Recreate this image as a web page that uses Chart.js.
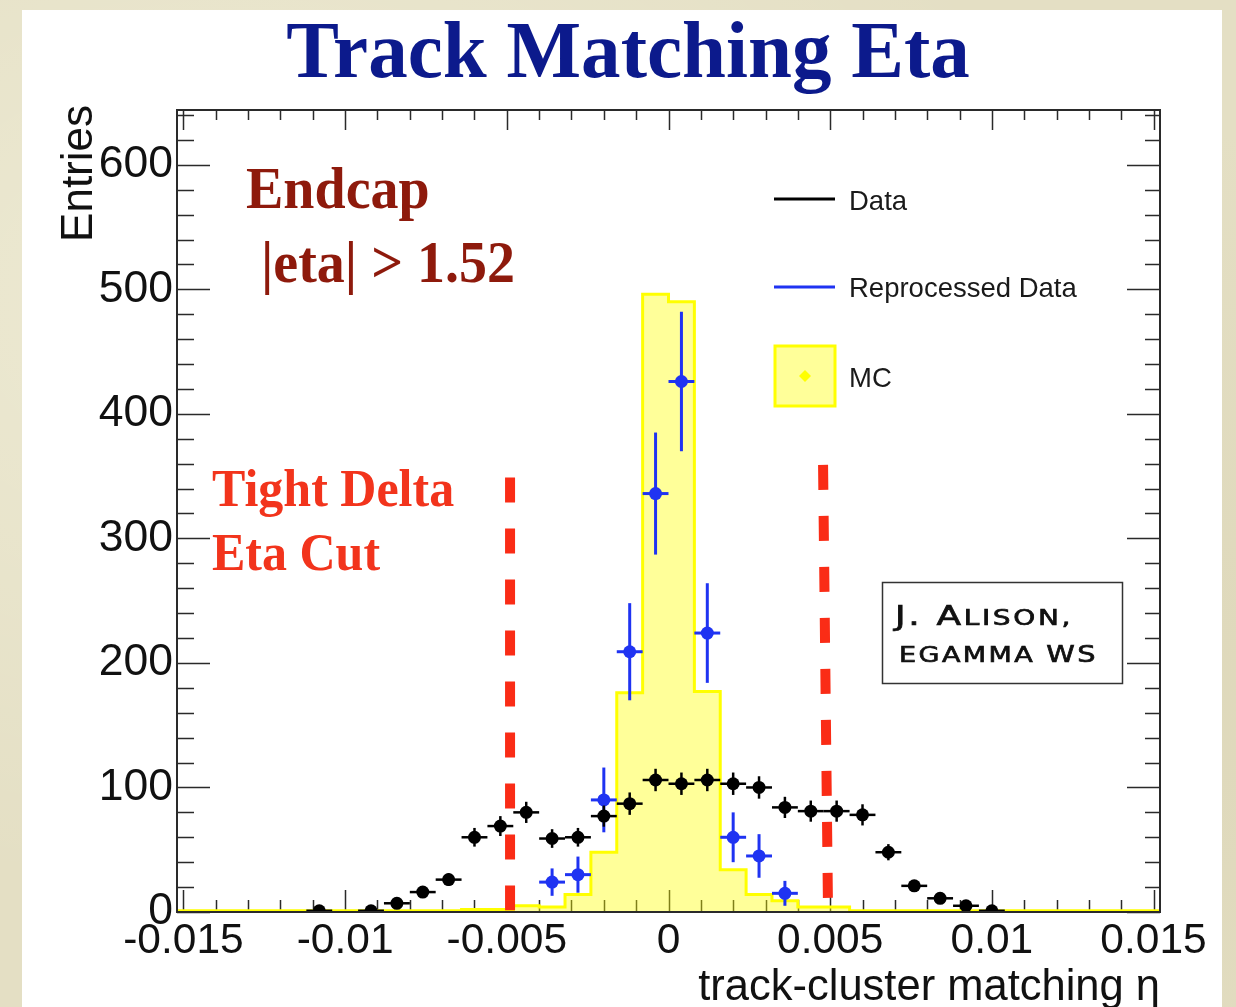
<!DOCTYPE html>
<html>
<head>
<meta charset="utf-8">
<title>Track Matching Eta</title>
<script src="https://cdn.jsdelivr.net/npm/chart.js@4.4.1/dist/chart.umd.min.js"></script>
<style>
  html, body { margin: 0; padding: 0; }
  body {
    width: 1236px; height: 1007px; position: relative; overflow: hidden;
    background:
      radial-gradient(ellipse at 20% 30%, rgba(255,255,240,0.35), rgba(255,255,240,0) 60%),
      radial-gradient(ellipse at 80% 70%, rgba(200,190,150,0.25), rgba(200,190,150,0) 60%),
      #e4dfc4;
  }
  #sheet { position: absolute; left: 22px; top: 10px; width: 1200px; height: 997px; background: #ffffff; }
  #plot { position: absolute; left: 0; top: 0; }
</style>
</head>
<body>
<div id="sheet"></div>
<canvas id="plot" width="1236" height="1007"></canvas>
<script>
// ---- histogram binning (38 bins of 0.0008 over [-0.0152, 0.0152]) ----
const X_MIN = -0.0152;
const X_MAX = 0.0152;
const BIN_WIDTH = 0.0008;
const Y_MAX = 644;

const etaBinCenters = [
  -0.0148, -0.0140, -0.0132, -0.0124, -0.0116, -0.0108, -0.0100, -0.0092,
  -0.0084, -0.0076, -0.0068, -0.0060, -0.0052, -0.0044, -0.0036, -0.0028,
  -0.0020, -0.0012, -0.0004,  0.0004,  0.0012,  0.0020,  0.0028,  0.0036,
   0.0044,  0.0052,  0.0060,  0.0068,  0.0076,  0.0084,  0.0092,  0.0100,
   0.0108,  0.0116,  0.0124,  0.0132,  0.0140,  0.0148
];

// MC expectation per bin
const mcEntries = [
  1, 1, 1, 1, 1, 1, 1, 1,
  1, 1, 1, 2, 2, 5, 4, 14,
  48, 176, 496, 490, 177, 34, 14, 9,
  4, 4, 1, 1, 1, 1, 1, 1,
  1, 1, 1, 1, 1, 1
];

// Data (black points) and their vertical errors
const dataEntries = [
  null, null, null, null, null, 1, null, 1,
  7, 16, 26, 60, 69, 80, 59, 60,
  77, 87, 106, 103, 106, 103, 100, 84,
  81, 81, 78, 48, 21, 11, 5, 1,
  null, null, null, null, null, null
];
const dataErrors = [
  0, 0, 0, 0, 0, 1, 0, 1,
  2.5, 4, 5, 7.5, 8, 8.5, 7.5, 7.5,
  8.5, 9, 9, 9, 9, 9, 9, 8.5,
  8.5, 8.5, 8.5, 6.5, 4.5, 3, 2, 1,
  0, 0, 0, 0, 0, 0
];

// Reprocessed data (blue points) and their vertical errors
const reprocEntries = [
  null, null, null, null, null, null, null, null,
  null, null, null, null, null, null, 24, 30,
  90, 209, 336, 426, 224, 60, 45, 15,
  null, null, null, null, null, null, null, null,
  null, null, null, null, null, null
];
const reprocErrors = [
  0, 0, 0, 0, 0, 0, 0, 0,
  0, 0, 0, 0, 0, 0, 11, 14.5,
  26, 39, 49, 56, 40, 20, 17.5, 10,
  0, 0, 0, 0, 0, 0, 0, 0,
  0, 0, 0, 0, 0, 0
];

// axis ticks
const xTickValues = [-0.015, -0.01, -0.005, 0, 0.005, 0.01, 0.015];
const xTickLabels = ['-0.015', '-0.01', '-0.005', '0', '0.005', '0.01', '0.015'];
const yTickValues = [0, 100, 200, 300, 400, 500, 600];
const yTickLabels = ['0', '100', '200', '300', '400', '500', '600'];

// tight delta-eta cut, drawn as dashed markers (top/bottom ends)
const cutLineX = [[-0.0049, -0.0049], [0.00478, 0.00493]];
const cutLineY = [[349, 1.5], [359, 9]];

// ---- text ----
const TITLE = 'Track Matching Eta';
const X_TITLE = 'track-cluster matching \u03b7';
const Y_TITLE = 'Entries';
const REGION_TEXT = ['Endcap', ' |eta| > 1.52'];
const CUT_TEXT = ['Tight Delta', 'Eta Cut'];

// ---- styles ----
const BLUE = '#1f33f2';
const MC_LINE = '#ffff00';
const MC_FILL = 'rgba(255,255,0,0.40)';
const AXIS_COLOR = '#2a2a2a';
const CUT_COLOR = '#fa2c16';
const SANS = '"Liberation Sans", Arial, sans-serif';
const SERIF = '"Liberation Serif", "Times New Roman", serif';

// ---- derived chart data ----
const mcOutline = [];
etaBinCenters.forEach((c, i) => {
  mcOutline.push({ x: c - BIN_WIDTH / 2, y: mcEntries[i] });
  mcOutline.push({ x: c + BIN_WIDTH / 2, y: mcEntries[i] });
});

function toPoints(values, errors) {
  const pts = [];
  values.forEach((v, i) => {
    if (v !== null) pts.push({ x: etaBinCenters[i], y: v, err: errors[i] });
  });
  return pts;
}

// ROOT-style ticks drawn inside the frame on all four sides
const innerTicks = {
  id: 'innerTicks',
  beforeDatasetsDraw(chart) {
    const { ctx, chartArea: a, scales: { x, y } } = chart;
    ctx.save();
    ctx.strokeStyle = AXIS_COLOR;
    ctx.lineWidth = 1.5;
    ctx.beginPath();
    for (let i = -15; i <= 15; i++) {
      const px = Math.round(x.getPixelForValue(i * 0.001)) + 0.5;
      const major = i % 5 === 0;
      const lb = major ? 22 : 12;
      const lt = major ? 20 : 10;
      ctx.moveTo(px, a.bottom); ctx.lineTo(px, a.bottom - lb);
      ctx.moveTo(px, a.top); ctx.lineTo(px, a.top + lt);
    }
    for (let i = 0; i <= 32; i++) {
      const py = Math.round(y.getPixelForValue(i * 20)) + 0.5;
      const major = i % 5 === 0;
      const ll = major ? 33 : 17;
      const lr = major ? 33 : 15;
      ctx.moveTo(a.left, py); ctx.lineTo(a.left + ll, py);
      ctx.moveTo(a.right, py); ctx.lineTo(a.right - lr, py);
    }
    ctx.stroke();
    ctx.restore();
  }
};

// error bars (bin width horizontally, stat error vertically) under the markers
const errorBars = {
  id: 'errorBars',
  beforeDatasetDraw(chart, args) {
    const ds = chart.data.datasets[args.index];
    if (!ds.barColor) return;
    const { ctx, chartArea: a, scales: { x, y } } = chart;
    ctx.save();
    ctx.beginPath();
    ctx.rect(a.left, a.top, a.width, a.height);
    ctx.clip();
    ctx.strokeStyle = ds.barColor;
    ctx.lineCap = 'butt';
    ds.data.forEach(p => {
      const px = x.getPixelForValue(p.x);
      const py = y.getPixelForValue(p.y);
      ctx.lineWidth = ds.hBarWidth;
      ctx.beginPath();
      ctx.moveTo(x.getPixelForValue(p.x - BIN_WIDTH / 2), py);
      ctx.lineTo(x.getPixelForValue(p.x + BIN_WIDTH / 2), py);
      ctx.stroke();
      ctx.lineWidth = ds.vBarWidth;
      ctx.beginPath();
      ctx.moveTo(px, y.getPixelForValue(p.y - p.err));
      ctx.lineTo(px, y.getPixelForValue(p.y + p.err));
      ctx.stroke();
    });
    ctx.restore();
  }
};

// dashed cut markers
const cutLines = {
  id: 'cutLines',
  afterDatasetsDraw(chart) {
    const { ctx, scales: { x, y } } = chart;
    ctx.save();
    ctx.strokeStyle = CUT_COLOR;
    ctx.lineWidth = 10;
    ctx.lineCap = 'butt';
    ctx.setLineDash([25, 26]);
    cutLineX.forEach((xs, i) => {
      ctx.beginPath();
      ctx.moveTo(x.getPixelForValue(xs[0]), y.getPixelForValue(cutLineY[i][0]));
      ctx.lineTo(x.getPixelForValue(xs[1]), y.getPixelForValue(cutLineY[i][1]));
      ctx.stroke();
    });
    ctx.restore();
  }
};

function drawText(ctx, text, x, y, font, color, align, sy, sx) {
  ctx.save();
  ctx.font = font;
  ctx.fillStyle = color;
  ctx.textAlign = align || 'left';
  ctx.textBaseline = 'alphabetic';
  ctx.translate(x, y);
  ctx.scale(sx || 1, sy || 1);
  ctx.fillText(text, 0, 0);
  ctx.restore();
}

// small-caps lettering, fitted to a given width
function drawCapsLine(ctx, runs, x, y, width) {
  ctx.save();
  ctx.fillStyle = '#111';
  ctx.strokeStyle = '#111';
  ctx.lineWidth = 0.7;
  ctx.textBaseline = 'alphabetic';
  ctx.letterSpacing = '2px';
  let total = 0;
  runs.forEach(r => { ctx.font = r.size + 'px "DejaVu Sans", sans-serif'; total += ctx.measureText(r.text).width; });
  ctx.translate(x, y);
  ctx.scale(width / total, 1);
  let cx = 0;
  runs.forEach(r => {
    ctx.font = r.size + 'px "DejaVu Sans", sans-serif';
    ctx.fillText(r.text, cx, 0);
    ctx.strokeText(r.text, cx, 0);
    cx += ctx.measureText(r.text).width;
  });
  ctx.restore();
}

const annotations = {
  id: 'annotations',
  afterDraw(chart) {
    const { ctx, chartArea: a } = chart;

    // frame
    ctx.save();
    ctx.strokeStyle = AXIS_COLOR;
    ctx.lineWidth = 2;
    ctx.strokeRect(a.left, a.top, a.right - a.left, a.bottom - a.top);
    ctx.restore();

    // title
    drawText(ctx, TITLE, 628, 77, 'bold 76px ' + SERIF, '#0c1a8c', 'center', 1.06, 1.04);

    // region and cut labels
    drawText(ctx, REGION_TEXT[0], 246, 208, 'bold 56px ' + SERIF, '#8e1a0c', 'left', 1.06);
    drawText(ctx, REGION_TEXT[1], 247, 282, 'bold 56px ' + SERIF, '#8e1a0c', 'left', 1.06);
    drawText(ctx, CUT_TEXT[0], 212, 506, 'bold 50px ' + SERIF, '#f2341c', 'left', 1.04);
    drawText(ctx, CUT_TEXT[1], 212, 570, 'bold 50px ' + SERIF, '#f2341c', 'left', 1.04);

    // legend
    const ds = chart.data.datasets;
    ctx.save();
    ctx.lineWidth = 3;
    ctx.strokeStyle = ds[0].borderColor;
    ctx.beginPath(); ctx.moveTo(774, 199); ctx.lineTo(835, 199); ctx.stroke();
    ctx.strokeStyle = ds[1].borderColor;
    ctx.beginPath(); ctx.moveTo(774, 287); ctx.lineTo(835, 287); ctx.stroke();
    ctx.fillStyle = ds[2].backgroundColor;
    ctx.fillRect(775, 346, 60, 60);
    ctx.strokeStyle = ds[2].borderColor;
    ctx.strokeRect(775, 346, 60, 60);
    ctx.fillStyle = MC_LINE;
    ctx.beginPath();
    ctx.moveTo(805, 370); ctx.lineTo(811, 376); ctx.lineTo(805, 382); ctx.lineTo(799, 376);
    ctx.closePath(); ctx.fill();
    ctx.restore();
    drawText(ctx, ds[0].label, 849, 210, '27.5px ' + SANS, '#1a1a1a', 'left');
    drawText(ctx, ds[1].label, 849, 297, '27.5px ' + SANS, '#1a1a1a', 'left');
    drawText(ctx, ds[2].label, 849, 387, '27.5px ' + SANS, '#1a1a1a', 'left');

    // credit box
    ctx.save();
    ctx.fillStyle = '#ffffff';
    ctx.fillRect(882, 582, 241, 102);
    ctx.strokeStyle = '#333';
    ctx.lineWidth = 1.5;
    ctx.strokeRect(882.5, 582.5, 240, 101);
    ctx.restore();
    drawCapsLine(ctx, [{ text: 'J. A', size: 27 }, { text: 'LISON,', size: 21 }], 895, 625, 178);
    drawCapsLine(ctx, [{ text: 'EGAMMA ', size: 22 }, { text: 'WS', size: 23.5 }], 899, 662, 199);

    // axis titles
    drawText(ctx, X_TITLE, 1160, 1000, '43.5px ' + SANS, '#111', 'right');
    ctx.save();
    ctx.translate(92, 105);
    ctx.rotate(-Math.PI / 2);
    ctx.font = '44px ' + SANS;
    ctx.fillStyle = '#111';
    ctx.textAlign = 'right';
    ctx.textBaseline = 'alphabetic';
    ctx.fillText(Y_TITLE, 0, 0);
    ctx.restore();
  }
};

new Chart(document.getElementById('plot'), {
  type: 'scatter',
  data: {
    datasets: [
      {
        label: 'Data', data: toPoints(dataEntries, dataErrors),
        backgroundColor: '#000', borderColor: '#000', borderWidth: 0,
        pointRadius: 6.5, pointHoverRadius: 6.5,
        barColor: '#000', hBarWidth: 2.5, vBarWidth: 2.5, order: 0
      },
      {
        label: 'Reprocessed Data', data: toPoints(reprocEntries, reprocErrors),
        backgroundColor: BLUE, borderColor: BLUE, borderWidth: 0,
        pointRadius: 6.5, pointHoverRadius: 6.5,
        barColor: BLUE, hBarWidth: 3, vBarWidth: 3, order: 1
      },
      {
        label: 'MC', type: 'line', data: mcOutline, showLine: true,
        borderColor: MC_LINE, borderWidth: 3, backgroundColor: MC_FILL,
        fill: 'origin', pointRadius: 0, tension: 0, order: 2
      }
    ]
  },
  options: {
    responsive: false,
    animation: false,
    devicePixelRatio: 1,
    events: [],
    layout: { padding: { left: 0, top: 110, right: 76, bottom: 0 } },
    plugins: { legend: { display: false }, tooltip: { enabled: false }, title: { display: false } },
    scales: {
      x: {
        type: 'linear', position: 'bottom', min: X_MIN, max: X_MAX,
        grid: { display: false }, border: { display: false },
        afterBuildTicks: s => { s.ticks = xTickValues.map(v => ({ value: v })); },
        afterFit: s => { s.height = 95; },
        ticks: {
          autoSkip: false, maxRotation: 0, minRotation: 0, padding: -4, color: '#111',
          font: { family: SANS, size: 42.5 },
          callback: (v, i) => xTickLabels[i]
        }
      },
      y: {
        type: 'linear', position: 'left', min: 0, max: Y_MAX,
        grid: { display: false }, border: { display: false },
        afterBuildTicks: s => { s.ticks = yTickValues.map(v => ({ value: v })); },
        afterFit: s => { s.width = 177; },
        ticks: {
          autoSkip: false, padding: -4, color: '#111',
          font: { family: SANS, size: 44.5 },
          callback: (v, i) => yTickLabels[i]
        }
      }
    }
  },
  plugins: [innerTicks, errorBars, cutLines, annotations]
});
</script>
</body>
</html>
